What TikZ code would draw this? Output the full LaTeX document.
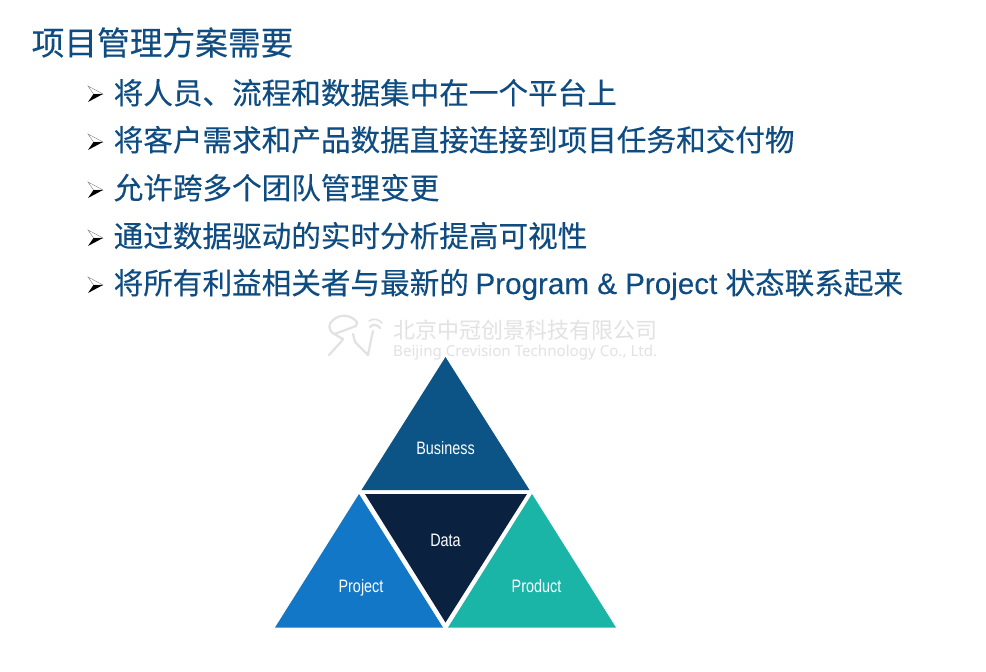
\documentclass[tikz,border=0pt]{standalone}
\usepackage{fontspec}
\usepackage{graphicx}
\setmainfont{Liberation Sans}
\newfontfamily\cjk[FakeBold=0.25]{Noto Sans CJK SC}
\newfontfamily\cjkplain{Noto Sans CJK SC}
\newfontfamily\wmfont{Noto Sans}
\newfontfamily\latinbold[FakeBold=0.15]{Liberation Sans}
\definecolor{txtblue}{HTML}{0F4C81}
\definecolor{bizblue}{HTML}{0B5485}
\definecolor{datanavy}{HTML}{0A2240}
\definecolor{projblue}{HTML}{1277C7}
\definecolor{prodteal}{HTML}{1BB5A8}
\definecolor{wmgrey}{HTML}{E2E2E2}
\newcommand{\bulletmark}[1]{%
  \fill[white,draw=gray,line width=0.4pt] (88,#1-8) -- (103,#1) -- (93.5,#1) -- cycle;
  \fill[black] (88,#1+8) -- (103,#1) -- (93.5,#1) -- cycle;
}
\tikzset{
  titletext/.style={anchor=base west,inner sep=0pt,text=txtblue,font=\cjk\fontsize{32.7}{36}\selectfont},
  bullettext/.style={anchor=base west,inner sep=0pt,text=txtblue,font=\cjk\fontsize{29.6}{34}\selectfont},
  tlabel/.style={anchor=base,inner sep=0pt,text=white,xscale=0.8,font=\fontsize{18}{20}\selectfont},
  wmtext/.style={inner sep=0pt,text=wmgrey},
  wmline/.style={draw=wmgrey,line width=2.2pt,line cap=round,line join=round}
}
\begin{document}
\begin{tikzpicture}[x=1pt,y=-1pt]
\useasboundingbox (0,0) rectangle (986,672);
\fill[white] (0,0) rectangle (986,672);
% title
\node[titletext] (title) at (31.5,55) {项目管理方案需要};
% bullets
\bulletmark{94}
\bulletmark{142}
\bulletmark{190}
\bulletmark{238}
\bulletmark{285}
\node[bullettext] (b1) at (113.5,104) {将人员、流程和数据集中在一个平台上};
\node[bullettext] (b2) at (113.5,151) {将客户需求和产品数据直接连接到项目任务和交付物};
\node[bullettext] (b3) at (113.5,199) {允许跨多个团队管理变更};
\node[bullettext] (b4) at (113.5,247) {通过数据驱动的实时分析提高可视性};
\node[bullettext] (b5) at (113.5,294) {将所有利益相关者与最新的 {\latinbold Program \& Project} \hspace{1.5pt}状态联系起来};
% watermark
\path[wmline] (334,334) .. controls (328,330) and (328,324) .. (333,320)
  .. controls (340,314) and (350,314) .. (357,322) -- (356,326) -- (340,332) -- (334,334) -- (343,339) -- (340,343) -- (329,355);
\path[wmline] (353,334) -- (355,342) -- (368,355) -- (371,340) -- (373,331);
\path[wmline] (370,327) .. controls (373,324) and (377,324) .. (380,328);
\path[wmline,line width=1.6pt] (369,321) .. controls (373,318) and (379,319) .. (382,323);
\node[wmtext,anchor=west,font=\cjkplain\fontsize{22}{24}\selectfont] (wm1) at (393,330) {北京中冠创景科技有限公司};
\node[wmtext,anchor=west,font=\wmfont] (wm2) at (393,352.5) {\resizebox{264pt}{!}{Beijing Crevision Technology Co., Ltd.}};
% triangles
\fill[bizblue] (445.5,357) -- (529.5,490) -- (361.5,490) -- cycle;
\fill[datanavy] (365,494) -- (527,494) -- (445.5,622.5) -- cycle;
\fill[projblue] (359,494) -- (443,627.5) -- (275,627.5) -- cycle;
\fill[prodteal] (532,494) -- (616,627.5) -- (448,627.5) -- cycle;
\node[tlabel] (business) at (445.5,454) {Business};
\node[tlabel] (data) at (445.5,546.5) {Data};
\node[tlabel] (project) at (361,592.5) {Project};
\node[tlabel] (product) at (536.5,592.5) {Product};
\end{tikzpicture}
\end{document}
